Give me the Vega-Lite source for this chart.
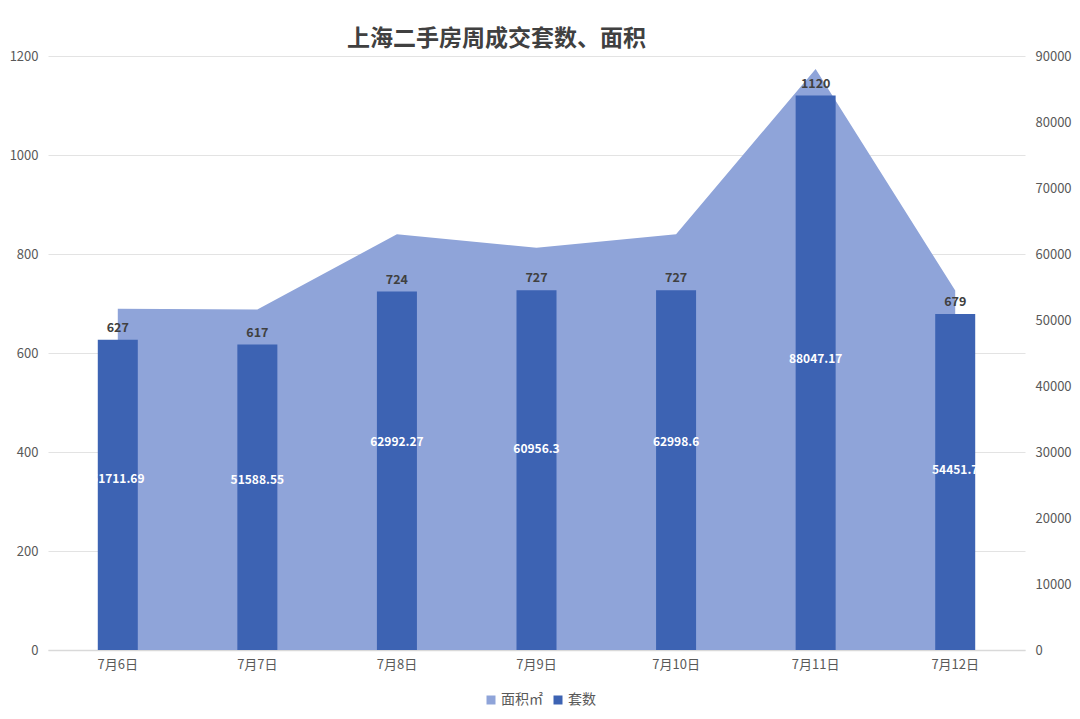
{
  "$schema": "https://vega.github.io/schema/vega-lite/v6.json",
  "width": 977,
  "height": 594,
  "autosize": {"type": "none"},
  "padding": {"left": 48, "top": 56, "right": 55, "bottom": 69},
  "background": "white",
  "title": {
    "text": "上海二手房周成交套数、面积",
    "fontSize": 23,
    "font": "Noto Sans CJK SC",
    "fontWeight": "bold",
    "color": "#404040",
    "anchor": "middle",
    "dx": -40,
    "offset": -1
  },
  "data": {
    "values": [
      {"date": "7月6日", "count": 627, "area": 51711.69},
      {"date": "7月7日", "count": 617, "area": 51588.55},
      {"date": "7月8日", "count": 724, "area": 62992.27},
      {"date": "7月9日", "count": 727, "area": 60956.3},
      {"date": "7月10日", "count": 727, "area": 62998.6},
      {"date": "7月11日", "count": 1120, "area": 88047.17},
      {"date": "7月12日", "count": 679, "area": 54451.7}
    ]
  },
  "encoding": {
    "x": {
      "field": "date",
      "type": "nominal",
      "sort": null,
      "scale": {"paddingInner": 0, "paddingOuter": 0},
      "axis": {
        "title": null,
        "labelAngle": 0,
        "labelFont": "Noto Sans CJK SC",
        "labelFontSize": 13,
        "labelColor": "#595959",
        "labelPadding": 8,
        "ticks": false,
        "domainColor": "#D9D9D9",
        "domainWidth": 1.5
      }
    }
  },
  "layer": [
    {
      "mark": {"type": "area", "opacity": 1},
      "encoding": {
        "x": {"field": "date", "type": "nominal", "sort": null, "bandPosition": 0.5},
        "y": {
          "field": "area",
          "type": "quantitative",
          "scale": {"domain": [0, 90000], "nice": false},
          "axis": {
            "orient": "right",
            "title": null,
            "values": [0, 10000, 20000, 30000, 40000, 50000, 60000, 70000, 80000, 90000],
            "format": "d",
            "grid": false,
            "domain": false,
            "ticks": false,
            "labelPadding": 10,
            "labelFont": "Noto Sans CJK SC",
            "labelFontSize": 13,
            "labelColor": "#595959"
          }
        },
        "color": {
          "datum": "面积㎡",
          "type": "nominal",
          "scale": {"domain": ["面积㎡", "套数"], "range": ["#8FA4D9", "#3D63B3"]},
          "legend": {
            "title": null,
            "orient": "none",
            "legendX": 436,
            "legendY": 637,
            "direction": "horizontal",
            "symbolType": "square",
            "symbolSize": 81,
            "symbolStrokeWidth": 0,
            "labelFont": "Noto Sans CJK SC",
            "labelFontSize": 14,
            "labelColor": "#595959",
            "labelOffset": 3,
            "columnPadding": 8
          }
        }
      }
    },
    {
      "mark": {"type": "bar", "size": 40},
      "encoding": {
        "y": {
          "field": "count",
          "type": "quantitative",
          "scale": {"domain": [0, 1200], "nice": false},
          "axis": {
            "orient": "left",
            "title": null,
            "values": [0, 200, 400, 600, 800, 1000, 1200],
            "format": "d",
            "grid": true,
            "gridColor": "#E3E3E3",
            "domain": false,
            "ticks": false,
            "labelPadding": 10,
            "labelFont": "Noto Sans CJK SC",
            "labelFontSize": 13,
            "labelColor": "#595959"
          }
        },
        "color": {"datum": "套数", "type": "nominal"}
      }
    },
    {
      "mark": {"type": "text", "baseline": "bottom", "dy": -5, "font": "Noto Sans CJK SC", "fontSize": 12.5, "fontWeight": "bold", "color": "#404040"},
      "encoding": {
        "y": {"field": "count", "type": "quantitative", "scale": {"domain": [0, 1200], "nice": false}, "axis": null},
        "text": {"field": "count", "type": "quantitative", "format": "d"}
      }
    },
    {
      "mark": {"type": "text", "baseline": "middle", "font": "Noto Sans CJK SC", "fontSize": 12, "fontWeight": "bold", "color": "white"},
      "encoding": {
        "y": {"field": "area", "type": "quantitative", "scale": {"domain": [0, 180000], "nice": false}, "axis": null},
        "text": {"field": "area", "type": "quantitative", "format": ""}
      }
    }
  ],
  "resolve": {"scale": {"y": "independent"}},
  "config": {"view": {"stroke": null}}
}
